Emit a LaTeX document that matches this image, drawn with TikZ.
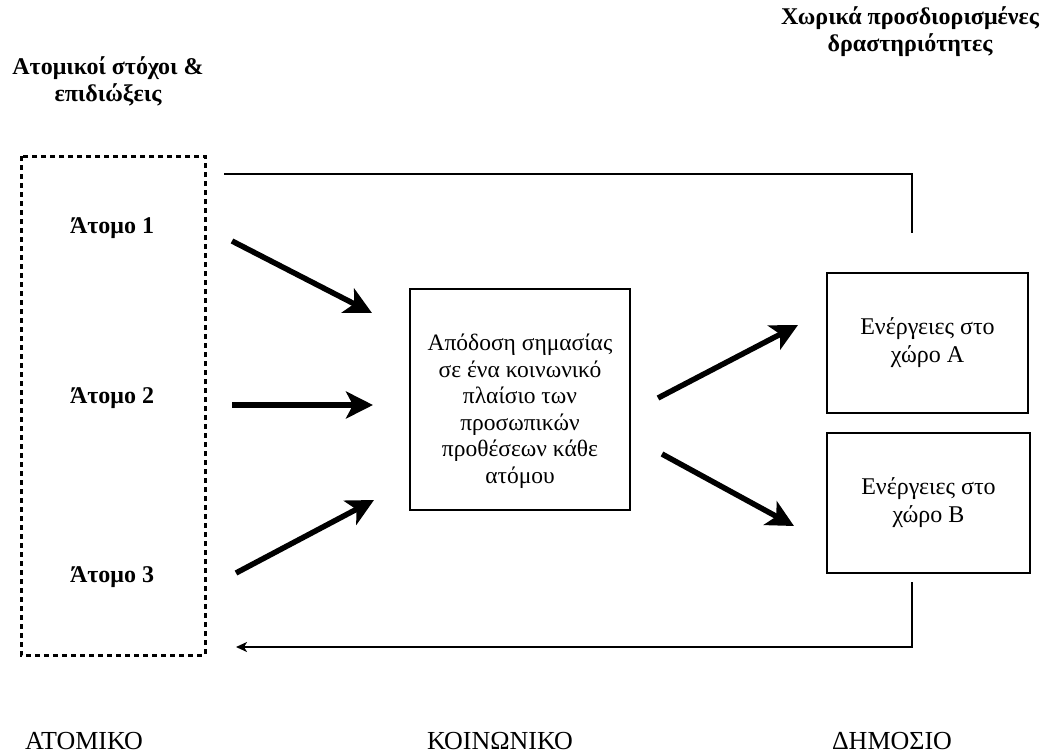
\documentclass[tikz,border=0pt]{standalone}
\usepackage{fontspec}
\setmainfont{Liberation Serif}
\usetikzlibrary{arrows.meta}
\begin{document}
\begin{tikzpicture}[x=1pt,y=-1pt,
  title/.style={font=\fontsize{24}{27}\selectfont\bfseries, align=center},
  atom/.style={font=\fontsize{24}{27}\selectfont\bfseries},
  boxtext/.style={font=\fontsize{23.5}{26.5}\selectfont, align=center},
  sidetext/.style={font=\fontsize{24}{28}\selectfont, align=center},
  solidbox/.style={draw, line width=2.5pt},
  dashbox/.style={line width=3pt, dash pattern=on 5pt off 4pt},
  bigarrow/.style={line width=5.5pt, -{Stealth[length=27pt,width=27pt,inset=7pt]}},
  thin/.style={line width=1.8pt},
  bottomlabel/.style={font=\fontsize{26}{28}\selectfont}
]
\useasboundingbox (0,0) rectangle (1058,753);
% titles
\node[title] (t1) at (108,81) {Ατομικοί στόχοι \&\\επιδιώξεις};
\node[title] (t2) at (910,32) {Χωρικά προσδιορισμένες\\δραστηριότητες};
% dashed box
\draw[dashbox] (21,156) rectangle (205,655);
% atoms
\node[atom] (a1) at (112,228) {Άτομο 1};
\node[atom] (a2) at (112,398) {Άτομο 2};
\node[atom] (a3) at (112,577) {Άτομο 3};
% center box
\node[solidbox, minimum width=220pt, minimum height=221pt] (c) at (520,399.5) {};
\node[boxtext] (ctext) at (520,411)
  {Απόδοση σημασίας\\σε ένα κοινωνικό\\πλαίσιο των\\προσωπικών\\προθέσεων κάθε\\ατόμου};
% right boxes
\node[solidbox, minimum width=201pt, minimum height=140pt, sidetext] (bA) at (927.5,343)
  {Ενέργειες στο\\χώρο A};
\node[solidbox, minimum width=203pt, minimum height=140pt, sidetext] (bB) at (928.5,503)
  {Ενέργειες στο\\χώρο B};
% arrow endpoints
\coordinate (s1) at (232,241);
\coordinate (e1) at (372,313);
\coordinate (s2) at (232,405);
\coordinate (e2) at (373,405);
\coordinate (s3) at (236,573);
\coordinate (e3) at (374,500);
\coordinate (s4) at (658,398);
\coordinate (e4) at (798,325);
\coordinate (s5) at (662,454);
\coordinate (e5) at (794,526);
\draw[bigarrow] (s1) -- (e1);
\draw[bigarrow] (s2) -- (e2);
\draw[bigarrow] (s3) -- (e3);
\draw[bigarrow] (s4) -- (e4);
\draw[bigarrow] (s5) -- (e5);
% top feedback line
\coordinate (tl) at (224,174);
\coordinate (tr) at (912,174);
\coordinate (td) at (912,233);
\draw[thin] (tl) -- (tr) -- (td);
% bottom feedback line
\coordinate (bu) at (912,582);
\coordinate (bc) at (912,647);
\coordinate (bl) at (236,647);
\draw[thin, -{Stealth[length=11pt,width=10pt,inset=3pt]}] (bu) -- (bc) -- (bl);
% bottom labels
\node[bottomlabel, anchor=base] (l1) at (84,749) {ΑΤΟΜΙΚΟ};
\node[bottomlabel, anchor=base] (l2) at (500,749) {ΚΟΙΝΩΝΙΚΟ};
\node[bottomlabel, anchor=base] (l3) at (892,749) {ΔΗΜΟΣΙΟ};
\end{tikzpicture}
\end{document}
